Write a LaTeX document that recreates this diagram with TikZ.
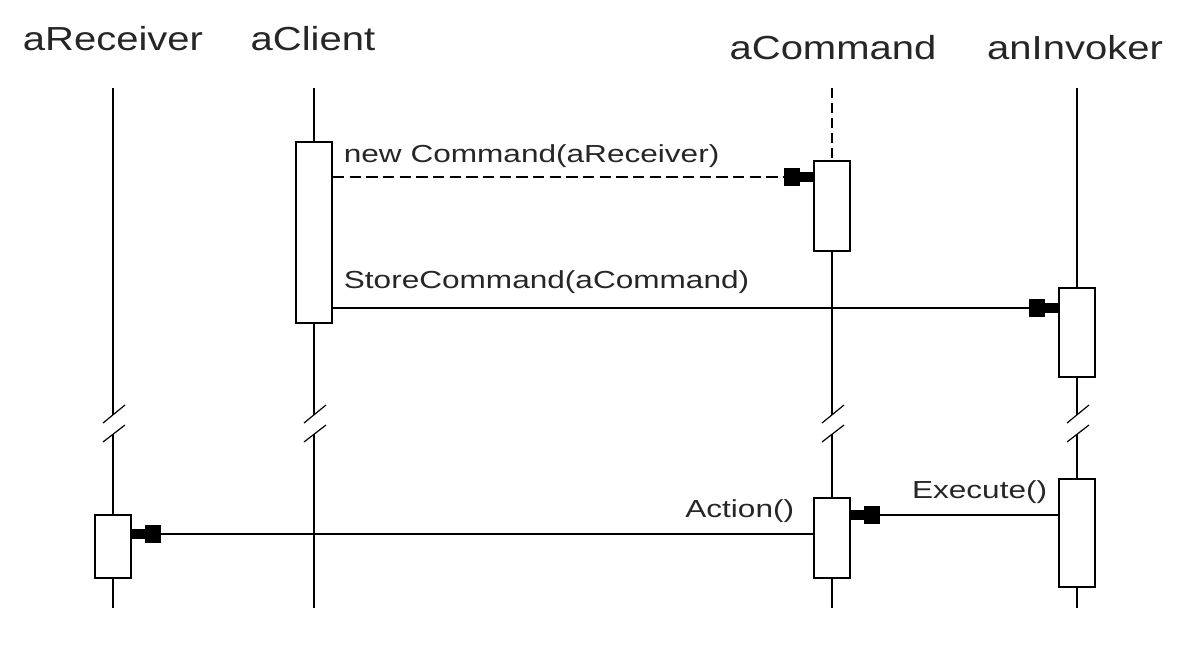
\documentclass[tikz,border=0pt]{standalone}
\usepackage{fontspec}
\setmainfont{Liberation Sans}
\newfontfamily\objfont[FakeStretch=1.2]{Liberation Sans}
\newfontfamily\msgfont[FakeStretch=1.28]{Liberation Sans}
\usetikzlibrary{
	arrows.meta,
	positioning
}

\begin{document}
\begin{tikzpicture}[x=0.75pt, y=-0.75pt, line width=1.3pt,
		objname/.style={anchor=base, inner sep=0pt, text=black!85, font=\objfont\fontsize{25}{30}\selectfont},
		msglabel/.style={inner sep=0pt, text=black!85, font=\msgfont\fontsize{18.5}{22}\selectfont},
		actbox/.style={draw, fill=white, minimum width=27pt, inner sep=0pt},
		msg/.style={-{Rectangle[length=12pt,width=14pt] Rectangle[length=10pt,width=8pt]}},
		lifedash/.style={dash pattern=on 7.5pt off 3.75pt},
		msgdash/.style={dash pattern=on 8.5pt off 4pt}
	]
		\useasboundingbox (0,0) rectangle (1181,656);
		
		% objects
		\node[objname] (rcv) at (113,51) {aReceiver};
		\node[objname] (cli) at (313,51) {aClient};
		\node[objname] (cmd) at (833,60) {aCommand};
		\node[objname] (inv) at (1075,60) {anInvoker};
		
		% lifelines
		\foreach \x in {113,314,1077} \draw (\x,88) -- (\x,415);
		\draw[lifedash] (832,88) -- (832,161);
		\draw (832,161) -- (832,415);
		\foreach \x in {113,314,832,1077} \draw (\x,434) -- (\x,608);
		
		% breaks
		\foreach \x in {113,314,832,1077} {
			\draw[line width=0.9pt] (\x-10,423) -- (\x+12,405);
			\draw[line width=0.9pt] (\x-10,442) -- (\x+12,425);
		}
		
		% activations
		\node[actbox, minimum height=135.75pt] (cliact) at (314,232.5) {};
		\node[actbox, minimum height=67.5pt] (cmdact) at (832,206) {};
		\node[actbox, minimum height=66.75pt] (invact) at (1077,332.5) {};
		\node[actbox, minimum height=60pt] (cmdrun) at (832,538) {};
		\node[actbox, minimum height=81pt] (invrun) at (1077,533) {};
		\node[actbox, minimum height=47.25pt] (rcvrun) at (113,546.5) {};
		
		% messages
		\coordinate (newy) at (0,177);
		\coordinate (storey) at (0,308);
		\coordinate (execy) at (0,515);
		\coordinate (acty) at (0,534);
		
		\draw[msg, msgdash] (cliact.east |- newy) -- (cmdact.west |- newy);
		\draw[msg] (cliact.east |- storey) -- (invact.west |- storey);
		\draw[msg] (invrun.west |- execy) -- (cmdrun.east |- execy);
		\draw[msg] (cmdrun.west |- acty) -- (rcvrun.east |- acty);
		
		\node[msglabel, anchor=base west] (newlbl) at (343,162) {new Command(aReceiver)};
		\node[msglabel, anchor=base west] (storelbl) at (343,288) {StoreCommand(aCommand)};
		\node[msglabel, anchor=base east] (execlbl) at (1048,498) {Execute()};
		\node[msglabel, anchor=base east] (actlbl) at (795,517) {Action()};
	\end{tikzpicture}
\end{document}
